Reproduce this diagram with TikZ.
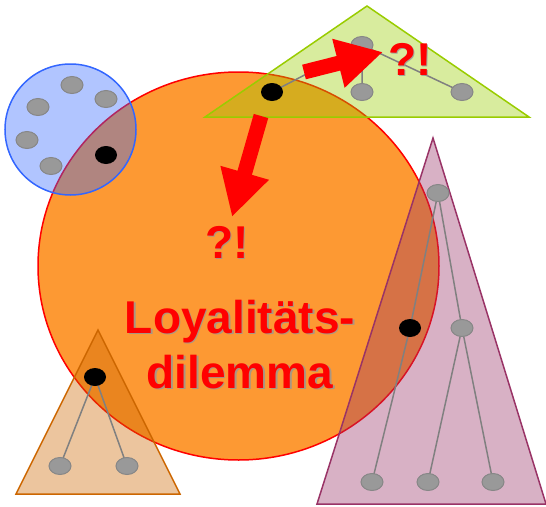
\documentclass[tikz,border=0pt]{standalone}
\usepackage{fontspec}
\setmainfont{Liberation Sans}
\usetikzlibrary{arrows.meta,shapes.geometric}
\definecolor{circfill}{RGB}{253,153,51}
\definecolor{circline}{RGB}{255,0,0}
\definecolor{blueC}{RGB}{51,102,255}
\definecolor{greenC}{RGB}{153,204,0}
\definecolor{orangeC}{RGB}{204,102,0}
\definecolor{plumC}{RGB}{153,51,102}
\definecolor{nodegray}{RGB}{153,153,153}
\definecolor{nodeedge}{RGB}{135,135,135}
\definecolor{treeline}{RGB}{128,128,128}
\definecolor{shadowC}{RGB}{150,150,150}
\tikzset{
  grp/.style={line width=1.5pt, fill opacity=0.38},
  gdot/.style={ellipse, draw=nodeedge, fill=nodegray, line width=1pt, minimum width=22pt, minimum height=17pt, inner sep=0pt},
  bdot/.style={ellipse, fill=black, minimum width=22pt, minimum height=18pt, inner sep=0pt},
  tedge/.style={draw=treeline, line width=1.5pt},
  bigarrow/.style={draw=red, line width=15pt, -{Triangle[length=46pt,width=47pt]}},
  txt/.style={font=\bfseries\fontsize{46}{55}\selectfont, text=red, inner sep=0pt, anchor=base},
  shd/.style={font=\bfseries\fontsize{46}{55}\selectfont, text=shadowC, inner sep=0pt, anchor=base, opacity=0.8}
}
\begin{document}
\begin{tikzpicture}[x=1pt,y=-1pt]
\useasboundingbox (0,0) rectangle (546,506);
% big circle
\draw[fill=circfill, draw=circline, line width=1.5pt] (238.5,266) ellipse [x radius=200.5, y radius=194];
% groups
\draw[grp, draw=blueC, fill=blueC] (70.5,129.5) circle [radius=65.5];
\draw[grp, draw=greenC, fill=greenC] (367,6) -- (529,117) -- (205,117) -- cycle;
\draw[grp, draw=orangeC, fill=orangeC] (98,330) -- (180,494) -- (16,494) -- cycle;
\draw[grp, draw=plumC, fill=plumC] (433,138) -- (546,504) -- (317,504) -- cycle;
% coordinates of tree nodes
\coordinate (g0) at (362,45);
\coordinate (g1) at (272,92);
\coordinate (g2) at (362,92);
\coordinate (g3) at (462,92);
\coordinate (o0) at (95,377);
\coordinate (o1) at (60,466);
\coordinate (o2) at (127,466);
\coordinate (p0) at (438,193);
\coordinate (p1) at (410,328);
\coordinate (p2) at (462,328);
\coordinate (p3) at (372,482);
\coordinate (p4) at (428,482);
\coordinate (p5) at (493,482);
% tree edges
\path[tedge] (g0) -- (g1) (g0) -- (g2) (g0) -- (g3);
\path[tedge] (o0) -- (o1) (o0) -- (o2);
\path[tedge] (p0) -- (p1) (p1) -- (p3) (p0) -- (p2) (p2) -- (p4) (p2) -- (p5);
% blue circle nodes
\node[gdot] (b1) at (72,85) {};
\node[gdot] (b2) at (106,99) {};
\node[gdot] (b3) at (38,107) {};
\node[gdot] (b4) at (27,140) {};
\node[gdot] (b5) at (51,166) {};
\node[bdot] (b6) at (106,155) {};
% tree nodes
\node[gdot] (ng0) at (g0) {};
\node[gdot] (ng2) at (g2) {};
\node[gdot] (ng3) at (g3) {};
\node[bdot] (ng1) at (g1) {};
\node[gdot] (no1) at (o1) {};
\node[gdot] (no2) at (o2) {};
\node[bdot] (no0) at (o0) {};
\node[gdot] (np0) at (p0) {};
\node[gdot] (np2) at (p2) {};
\node[gdot] (np3) at (p3) {};
\node[gdot] (np4) at (p4) {};
\node[gdot] (np5) at (p5) {};
\node[bdot] (np1) at (p1) {};
% arrows
\coordinate (a1s) at (304,72);
\coordinate (a1e) at (383,52);
\coordinate (a2s) at (261,116);
\coordinate (a2e) at (232,217);
\draw[bigarrow] (a1s) -- (a1e);
\draw[bigarrow] (a2s) -- (a2e);
% texts
\node[shd] at (411.5,76.5) {?!};
\node[txt] (q1) at (410,75) {?!};
\node[shd] at (228.5,259.5) {?!};
\node[txt] (q2) at (227,258) {?!};
\node[shd] at (241.5,334.5) {Loyalitäts-};
\node[txt] (l1) at (240,333) {Loyalitäts-};
\node[shd] at (241.5,389.5) {dilemma};
\node[txt] (l2) at (240,388) {dilemma};
\end{tikzpicture}
\end{document}
